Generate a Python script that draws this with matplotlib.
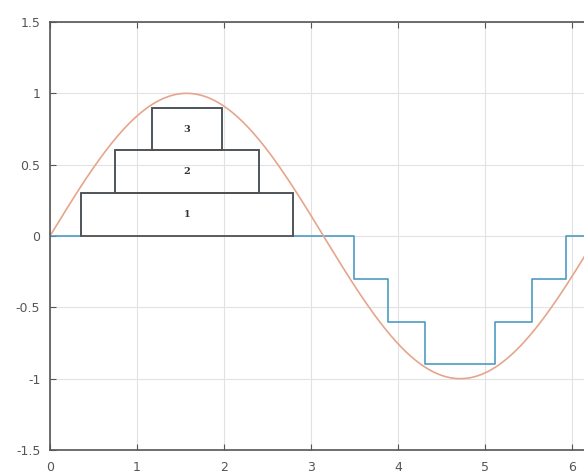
import numpy as np
import matplotlib
matplotlib.use("Agg")
import matplotlib.pyplot as plt
from matplotlib.patches import Rectangle

# switching angles (rad) and step levels
angles = [0.356, 0.741, 1.17]
levels = [0.3, 0.6, 0.9]
box_labels = ["1", "2", "3"]

xticks = [0, 1, 2, 3, 4, 5, 6]
yticks = [-1.5, -1, -0.5, 0, 0.5, 1, 1.5]
ytick_labels = ["-1.5", "-1", "-0.5", "0", "0.5", "1", "1.5"]

# build the staircase for one period from the angles
edges = [0.0]
vals = [0.0]
for a, l in zip(angles, levels):
    edges.append(a)
    vals.append(l)
for a, l in zip(angles[::-1], [0.6, 0.3, 0.0]):
    edges.append(np.pi - a)
    vals.append(l)
for a, l in zip(angles, [-0.3, -0.6, -0.9]):
    edges.append(np.pi + a)
    vals.append(l)
for a, l in zip(angles[::-1], [-0.6, -0.3, 0.0]):
    edges.append(2 * np.pi - a)
    vals.append(l)
edges.append(2 * np.pi)
vals.append(0.0)

t = np.linspace(0, 2 * np.pi, 600)

fig = plt.figure(figsize=(5.84, 4.75), dpi=100)
ax = fig.add_axes([50 / 584, 25 / 475, (597 - 50) / 584, (450 - 22) / 475])

ax.step(edges, vals, where="post", color="#4f9bc2", linewidth=1.2)
ax.plot(t, np.sin(t), color="#e6a58c", linewidth=1.2)

# pyramid of boxes on the positive half
for a, l, lab in zip(angles, levels, box_labels):
    ax.add_patch(Rectangle((a, l - 0.3), np.pi - 2 * a, 0.3, fill=False,
                           edgecolor="#505050", linewidth=1.3, zorder=3))
    ax.text(np.pi / 2, l - 0.15, lab, ha="center", va="center",
            fontsize=7, fontweight="bold", family="DejaVu Serif", color="#333333")

ax.set_xlim(0, 2 * np.pi)
ax.set_ylim(-1.5, 1.5)
ax.set_xticks(xticks)
ax.set_yticks(yticks)
ax.set_yticklabels(ytick_labels)
ax.grid(True, color="#e2e2e2", linewidth=0.8)
ax.set_axisbelow(True)
ax.tick_params(direction="in", length=4, labelsize=9, colors="#555555",
               top=True, right=True)
ax.tick_params(axis="x", pad=8)
ax.tick_params(axis="y", pad=7)
for s in ax.spines.values():
    s.set_color("#555555")
    s.set_linewidth(1.2)

fig.savefig("out.png", dpi=100)
